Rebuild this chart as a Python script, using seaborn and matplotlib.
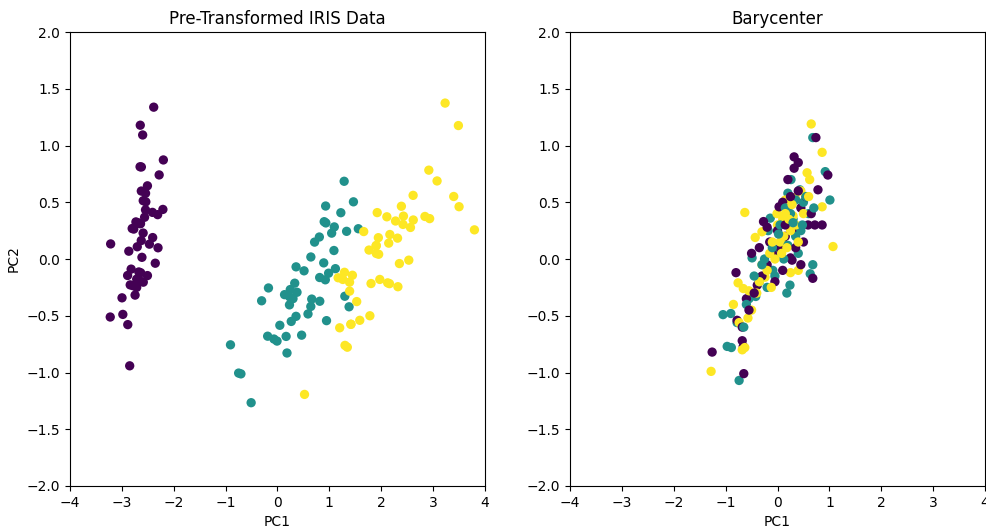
import numpy as np
import pandas as pd
import matplotlib
matplotlib.use("Agg")
import matplotlib.pyplot as plt
import seaborn as sns

# ---------------- Left panel: PCA of IRIS ----------------
setosa_pc1 = [-2.684, -2.714, -2.889, -2.745, -2.729, -2.281, -2.821, -2.626, -2.886, -2.673,
              -2.507, -2.613, -2.786, -3.224, -2.645, -2.386, -2.624, -2.648, -2.200, -2.588,
              -2.310, -2.544, -3.216, -2.303, -2.356, -2.507, -2.469, -2.562, -2.640, -2.632,
              -2.587, -2.410, -2.649, -2.599, -2.637, -2.866, -2.625, -2.801, -2.981, -2.590,
              -2.770, -2.849, -2.997, -2.406, -2.209, -2.714, -2.538, -2.839, -2.543, -2.703]
setosa_pc2 = [0.319, -0.177, -0.145, -0.318, 0.327, 0.741, -0.089, 0.163, -0.578, -0.114,
              0.645, 0.015, -0.235, -0.511, 1.179, 1.338, 0.811, 0.312, 0.873, 0.514,
              0.391, 0.433, 0.133, 0.099, -0.037, -0.146, 0.131, 0.368, 0.312, -0.197,
              -0.204, 0.411, 0.813, 1.093, -0.121, 0.069, 0.599, 0.269, -0.488, 0.229,
              0.264, -0.941, -0.342, 0.189, 0.437, -0.250, 0.504, -0.228, 0.579, 0.108]
versicolor_pc1 = [1.285, 0.932, 1.464, 0.183, 1.088, 0.642, 1.095, -0.749, 1.044, -0.009,
                  -0.508, 0.512, 0.265, 0.985, -0.174, 0.928, 0.660, 0.236, 0.945, 0.045,
                  1.116, 0.358, 1.298, 0.922, 0.715, 0.900, 1.332, 1.558, 0.813, -0.306,
                  -0.068, -0.190, 0.136, 1.380, 0.588, 0.807, 1.221, 0.815, 0.246, 0.166,
                  0.465, 0.891, 0.231, -0.705, 0.357, 0.332, 0.376, 0.643, -0.906, 0.299]
versicolor_pc2 = [0.685, 0.318, 0.504, -0.828, 0.075, -0.418, 0.283, -1.005, 0.228, -0.723,
                  -1.266, -0.104, -0.550, -0.125, -0.255, 0.467, -0.353, -0.334, -0.543, -0.584,
                  -0.085, -0.069, -0.328, -0.183, 0.149, 0.329, 0.244, 0.267, -0.163, -0.368,
                  -0.705, -0.680, -0.314, -0.421, -0.484, 0.194, 0.408, -0.372, -0.269, -0.682,
                  -0.671, -0.034, -0.404, -1.012, -0.505, -0.213, -0.293, 0.018, -0.756, -0.349]
virginica_pc1 = [2.531, 1.415, 2.617, 1.972, 2.350, 3.397, 0.521, 2.933, 2.321, 2.917,
                 1.662, 1.803, 2.166, 1.346, 1.586, 1.904, 1.950, 3.487, 3.796, 1.301,
                 2.428, 1.199, 3.500, 1.389, 2.275, 2.614, 1.259, 1.291, 2.124, 2.388,
                 2.842, 3.231, 2.159, 1.444, 1.781, 3.076, 2.144, 1.905, 1.169, 2.108,
                 2.314, 1.922, 1.415, 2.563, 2.419, 1.944, 1.527, 1.764, 1.901, 1.390]
virginica_pc2 = [-0.010, -0.575, 0.344, -0.180, -0.040, 0.551, -1.193, 0.356, -0.244, 0.783,
                 0.242, -0.216, 0.216, -0.777, -0.540, 0.119, 0.042, 1.176, 0.257, -0.761,
                 0.378, -0.606, 0.461, -0.204, 0.335, 0.561, -0.180, -0.117, -0.210, 0.465,
                 0.375, 1.374, -0.217, -0.143, -0.500, 0.688, 0.140, 0.049, -0.165, 0.372,
                 0.184, 0.409, -0.575, 0.278, 0.305, 0.188, -0.375, 0.079, 0.117, -0.283]

# ---------------- Right panel: Barycenter ----------------
bary_setosa_x = [0.32, 0.32, 0.74, 0.97, 0.78, 0.59, 0.72, 0.86, 0.03, -0.27,
                 0.28, 0.25, 0.68, -0.80, -0.39, -0.78, -1.26, -0.66, -0.68, -0.65,
                 -0.68, -0.60, 0.10, 0.20, 0.45, 0.30, 0.15, 0.05, -0.10, -0.20,
                 -0.30, -0.45, 0.55, 0.40, 0.00, -0.15, 0.35, 0.50, -0.05, -0.50,
                 0.10, 0.65, 0.20, 0.40, -0.35, 0.15, -0.20, 0.45, -0.55, 0.25]
bary_setosa_y = [0.90, 0.80, 1.07, 0.74, 0.61, 0.30, 0.30, 0.30, 0.46, 0.33,
                 -0.01, 0.01, -0.17, -0.12, -0.23, -0.54, -0.82, -0.77, -0.72, -1.01,
                 -0.60, -0.35, 0.50, 0.40, 0.45, 0.25, 0.20, 0.10, 0.05, -0.05,
                 -0.15, -0.30, 0.55, 0.60, 0.25, 0.15, 0.10, 0.15, -0.20, 0.05,
                 -0.10, 0.40, 0.70, 0.85, 0.10, 0.30, 0.28, -0.05, -0.45, 0.55]
bary_versicolor_x = [0.68, 0.92, 0.26, 0.43, 0.20, 1.01, -0.14, -0.18, -0.49, 0.68,
                     -0.09, 0.63, 0.24, -0.90, -0.78, -1.05, -0.97, -0.89, -0.74, -0.55,
                     -0.42, 0.00, 0.10, 0.30, 0.50, 0.60, 0.35, 0.15, -0.05, -0.25,
                     -0.35, -0.60, 0.45, 0.40, 0.20, -0.10, 0.05, 0.55, 0.25, -0.20,
                     0.12, 0.70, 0.35, 0.02, -0.30, 0.18, -0.45, 0.48, 0.30, -0.65]
bary_versicolor_y = [1.07, 0.77, 0.70, 0.61, 0.58, 0.52, 0.36, 0.25, 0.01, -0.05,
                     -0.10, -0.13, -0.23, -0.48, -0.56, -0.49, -0.77, -0.78, -1.07, -0.35,
                     -0.33, 0.05, 0.15, 0.35, 0.50, 0.40, 0.20, 0.45, -0.15, 0.00,
                     -0.20, -0.40, 0.25, 0.05, 0.12, 0.10, 0.30, 0.55, 0.40, -0.25,
                     0.00, 0.45, 0.52, 0.22, -0.05, -0.30, -0.15, 0.30, 0.32, -0.60]
bary_virginica_x = [0.65, 0.86, 0.57, 0.62, 0.34, 0.15, 0.86, -0.01, -0.63, 1.07,
                    -0.30, -0.43, 0.40, 0.25, -0.24, -0.76, -0.66, -0.74, -0.57, -1.28,
                    -0.63, -0.55, -0.30, 0.00, 0.10, 0.20, 0.30, 0.50, 0.05, -0.15,
                    -0.40, -0.85, 0.45, 0.25, 0.12, -0.10, 0.35, 0.60, 0.18, -0.20,
                    -0.05, 0.40, 0.28, -0.35, 0.08, 0.22, -0.50, 0.15, -0.12, -0.68]
bary_virginica_y = [1.19, 0.94, 0.76, 0.70, 0.54, 0.52, 0.46, 0.40, 0.41, 0.11,
                    0.24, 0.19, -0.10, -0.12, -0.16, -0.21, -0.26, -0.56, -0.52, -0.99,
                    -0.78, -0.28, -0.05, 0.30, 0.35, 0.45, 0.38, 0.40, 0.15, 0.05,
                    -0.30, -0.40, 0.60, 0.25, 0.20, 0.15, 0.30, 0.55, 0.10, -0.10,
                    0.00, 0.15, 0.48, -0.20, 0.05, 0.35, -0.45, 0.40, -0.25, -0.80]

class_values = [0, 1, 2]
palette = {0: "#440154", 1: "#21918c", 2: "#fde725"}


def build(xs, ys):
    frames = []
    for cls, x, y in zip(class_values, xs, ys):
        frames.append(pd.DataFrame({"PC1": x, "PC2": y, "cls": cls}))
    return pd.concat(frames, ignore_index=True)


left_df = build([setosa_pc1, versicolor_pc1, virginica_pc1],
                [setosa_pc2, versicolor_pc2, virginica_pc2])
right_df = build([bary_setosa_x, bary_versicolor_x, bary_virginica_x],
                 [bary_setosa_y, bary_versicolor_y, bary_virginica_y])
# interleave the barycenter points so colours overlap as in the picture
right_df = right_df.iloc[np.argsort(np.tile(np.arange(50), 3), kind="stable")].reset_index(drop=True)

fig = plt.figure(figsize=(9.87, 5.27), dpi=100)
ax1 = fig.add_axes([0.0709, 0.0778, 0.4205, 0.8614])
ax2 = fig.add_axes([0.5775, 0.0778, 0.4205, 0.8614])

for ax, df, title in [(ax1, left_df, "Pre-Transformed IRIS Data"), (ax2, right_df, "Barycenter")]:
    sns.scatterplot(data=df, x="PC1", y="PC2", hue="cls", palette=palette,
                    s=45, linewidth=0, edgecolor="none", legend=False, ax=ax)
    ax.set_xlim(-4, 4)
    ax.set_ylim(-2, 2)
    ax.set_xticks(np.arange(-4, 5, 1))
    ax.set_yticks(np.arange(-2, 2.01, 0.5))
    ax.set_title(title)
    ax.set_xlabel("PC1")

ax1.set_ylabel("PC2")
ax2.set_ylabel("")

fig.savefig("out.png", dpi=100)
